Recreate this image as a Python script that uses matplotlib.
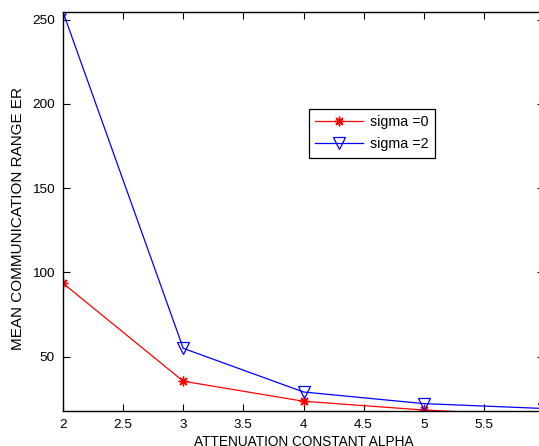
import matplotlib
matplotlib.use("Agg")
import matplotlib.pyplot as plt

alpha = [2, 3, 4, 5, 6]
sigma0 = [93.6, 35.5, 23.6, 18.4, 15.0]
sigma2 = [254.5, 55.0, 29.1, 22.2, 19.3]
xticks = [2, 2.5, 3, 3.5, 4, 4.5, 5, 5.5]
yticks = [50, 100, 150, 200, 250]

plt.rcParams['font.family'] = ['Liberation Sans', 'DejaVu Sans']

W, H = 539, 446
fig = plt.figure(figsize=(W / 100, H / 100), dpi=100)
left, right, top, bottom = 63, 544, 12, 410.7
ax = fig.add_axes([left / W, (H - bottom) / H, (right - left) / W, (bottom - top) / H])

ax.plot(alpha, sigma0, color='red', lw=0.9, marker=(8, 2, 0), ms=7, mew=1.0, label='sigma =0')
ax.plot(alpha, sigma2, color='blue', lw=0.9, marker='v', ms=8, mfc='none', mew=0.9, label='sigma =2')

ax.set_xlim(2, 6)
ax.set_ylim(18, 254.5)
ax.set_xticks(xticks)
ax.set_xticklabels([f"{t:g}" for t in xticks])
ax.set_yticks(yticks)
ax.tick_params(direction='in', top=True, right=True, length=5, width=0.8, labelsize=9.7, pad=6)
for s in ax.spines.values():
    s.set_linewidth(1.0)

fig.text(18 / W, 1 - 219 / H, 'MEAN COMMUNICATION RANGE ER', fontsize=11, rotation=90,
         ha='center', va='center')
fig.text(304 / W, 1 - 435 / H, 'ATTENUATION CONSTANT ALPHA', fontsize=9.8,
         ha='center', va='top')

leg = ax.legend(loc='upper left', bbox_to_anchor=(309 / W, 1 - 109 / H), bbox_transform=fig.transFigure,
                fontsize=10.3, frameon=True, fancybox=False, edgecolor='black', framealpha=1,
                handlelength=3.3, borderpad=0.45, labelspacing=0.55, handletextpad=0.5, borderaxespad=0)
leg.get_frame().set_linewidth(0.9)

fig.savefig('out.png', dpi=100)
